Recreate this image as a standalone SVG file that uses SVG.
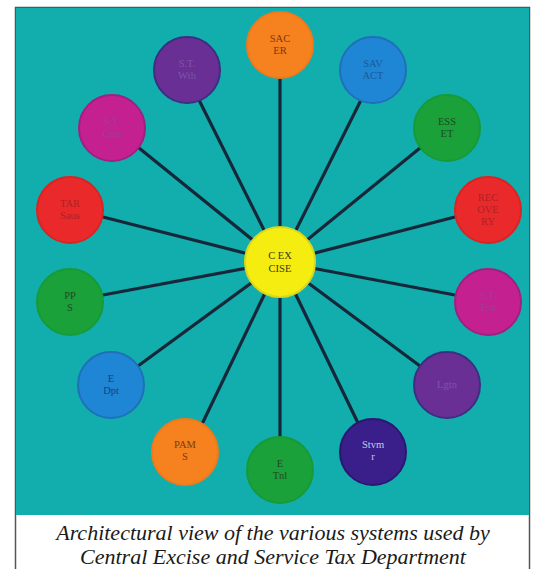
<svg xmlns="http://www.w3.org/2000/svg" width="545" height="569" viewBox="0 0 545 569">
<style>
.bg{fill:#12adad}
.ln{stroke:#16273a;stroke-width:3.2;stroke-linecap:round}
.nd{stroke-width:2}
.t{font-family:"Liberation Serif","Times New Roman",serif;font-size:10.5px;text-anchor:middle}
.cap{font-family:"Liberation Serif","Times New Roman",serif;font-style:italic;font-size:22px;text-anchor:middle;fill:#1a1a1a}
</style>
<rect x="0" y="0" width="545" height="569" fill="#ffffff"/>
<rect x="15.5" y="7.5" width="514" height="570" fill="none" stroke="#555" stroke-width="1.5"/>
<rect class="bg" x="16" y="8" width="513" height="507"/>
<g id="connectors">
<line class="ln" x1="280" y1="262" x2="280" y2="78"/>
<line class="ln" x1="280" y1="262" x2="199" y2="100"/>
<line class="ln" x1="280" y1="262" x2="361" y2="100"/>
<line class="ln" x1="280" y1="262" x2="139" y2="148"/>
<line class="ln" x1="280" y1="262" x2="420" y2="148"/>
<line class="ln" x1="280" y1="262" x2="103" y2="217"/>
<line class="ln" x1="280" y1="262" x2="455" y2="217"/>
<line class="ln" x1="280" y1="262" x2="103" y2="295"/>
<line class="ln" x1="280" y1="262" x2="455" y2="295"/>
<line class="ln" x1="280" y1="262" x2="138" y2="366"/>
<line class="ln" x1="280" y1="262" x2="420" y2="366"/>
<line class="ln" x1="280" y1="262" x2="203" y2="422"/>
<line class="ln" x1="280" y1="262" x2="280" y2="437"/>
<line class="ln" x1="280" y1="262" x2="358" y2="423"/>
</g>
<g id="n-sacer"><circle class="nd" cx="280" cy="45" r="33" fill="#f5821f" stroke="#f07a1a"/><text class="t" x="280" y="42" fill="#7a3a10">SAC</text><text class="t" x="280" y="54" fill="#7a3a10">ER</text></g>
<g id="n-purple-tl"><circle class="nd" cx="187" cy="70" r="33" fill="#6a2f95" stroke="#3a2f80"/><text class="t" x="187" y="67" fill="#7a55a8">S.T.</text><text class="t" x="187" y="79" fill="#7a55a8">Wth</text></g>
<g id="n-savact"><circle class="nd" cx="373" cy="70" r="33" fill="#1f86d6" stroke="#1f70b8"/><text class="t" x="373" y="67" fill="#1a5a9a">SAV</text><text class="t" x="373" y="79" fill="#1a5a9a">ACT</text></g>
<g id="n-magenta-l"><circle class="nd" cx="112" cy="128" r="33" fill="#c4208f" stroke="#a02080"/><text class="t" x="112" y="125" fill="#a43a98">S.T.</text><text class="t" x="112" y="137" fill="#a43a98">Cms</text></g>
<g id="n-esset"><circle class="nd" cx="447" cy="128" r="33" fill="#1ba13a" stroke="#179a38"/><text class="t" x="447" y="125" fill="#1f4a1f">ESS</text><text class="t" x="447" y="137" fill="#1f4a1f">ET</text></g>
<g id="n-red-l"><circle class="nd" cx="70" cy="210" r="33" fill="#ea2a2a" stroke="#d82424"/><text class="t" x="70" y="207" fill="#b02028">TAR</text><text class="t" x="70" y="219" fill="#b02028">Saus</text></g>
<g id="n-red-r"><circle class="nd" cx="488" cy="210" r="33" fill="#ea2a2a" stroke="#d82424"/><text class="t" x="488" y="201" fill="#b02028">REC</text><text class="t" x="488" y="213" fill="#b02028">OVE</text><text class="t" x="488" y="225" fill="#b02028">RY</text></g>
<g id="n-green-l"><circle class="nd" cx="70" cy="302" r="33" fill="#1ba13a" stroke="#179a38"/><text class="t" x="70" y="299" fill="#1f4a1f">PP</text><text class="t" x="70" y="311" fill="#1f4a1f">S</text></g>
<g id="n-magenta-r"><circle class="nd" cx="488" cy="302" r="33" fill="#c4208f" stroke="#a02080"/><text class="t" x="488" y="299" fill="#a43a98">S.T.</text><text class="t" x="488" y="311" fill="#a43a98">Tcst</text></g>
<g id="n-edpt"><circle class="nd" cx="111" cy="385" r="33" fill="#1f86d6" stroke="#1f70b8"/><text class="t" x="111" y="382" fill="#153f80">E</text><text class="t" x="111" y="394" fill="#153f80">Dpt</text></g>
<g id="n-purple-r"><circle class="nd" cx="447" cy="385" r="33" fill="#6a2f95" stroke="#3a2f80"/><text class="t" x="447" y="388" fill="#7a55a8">Lgtn</text></g>
<g id="n-pams"><circle class="nd" cx="185" cy="452" r="33" fill="#f5821f" stroke="#f07a1a"/><text class="t" x="185" y="448" fill="#7a3a10">PAM</text><text class="t" x="185" y="460" fill="#7a3a10">S</text></g>
<g id="n-etnl"><circle class="nd" cx="280" cy="470" r="33" fill="#1ba13a" stroke="#179a38"/><text class="t" x="280" y="467" fill="#1f4a1f">E</text><text class="t" x="280" y="479" fill="#1f4a1f">Tnl</text></g>
<g id="n-stvmr"><circle class="nd" cx="373" cy="452" r="33" fill="#3a1f8a" stroke="#2a1870"/><text class="t" x="373" y="448" fill="#c8c8e8">Stvm</text><text class="t" x="373" y="460" fill="#c8c8e8">r</text></g>
<g id="n-center"><circle cx="280" cy="262" r="35" fill="#f5ec10" stroke="#d8d820" stroke-width="2"/><text class="t" x="280" y="259" fill="#3a3a20">C EX</text><text class="t" x="280" y="272" fill="#3a3a20">CISE</text></g>
<text class="cap" x="273" y="540">Architectural view of the various systems used by</text>
<text class="cap" x="273" y="564">Central Excise and Service Tax Department</text>
</svg>
